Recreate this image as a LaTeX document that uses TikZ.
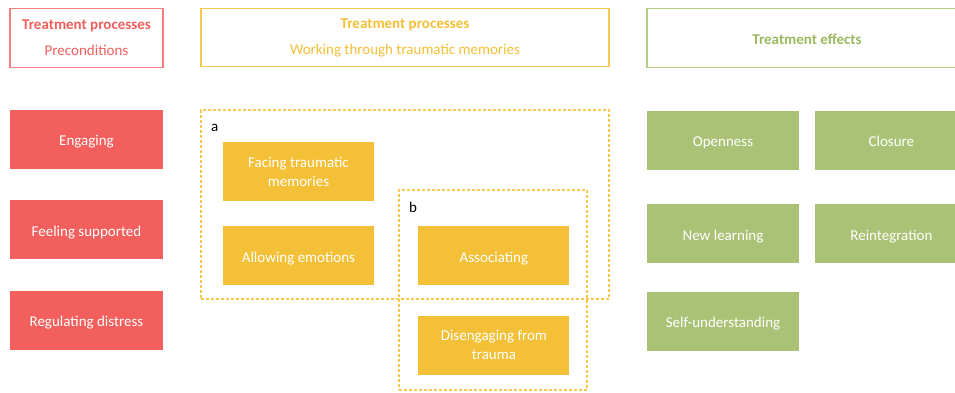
\documentclass[tikz,border=0pt]{standalone}
\usepackage{fontspec}
\setmainfont{Carlito}
\usetikzlibrary{positioning}

\definecolor{prered}{HTML}{F25F5C}
\definecolor{preline}{HTML}{F47F7D}
\definecolor{workyel}{HTML}{F4C038}
\definecolor{workline}{HTML}{F6C94E}
\definecolor{effgreen}{HTML}{A9C275}
\definecolor{effline}{HTML}{B4CC8A}
\definecolor{efftext}{HTML}{9CB85F}

\tikzset{
  box/.style={rectangle, inner sep=0pt, text=white, align=center,
    minimum width=152pt, minimum height=59pt,
    text height=13pt, text depth=0.5pt,
    font=\fontsize{15}{19}\selectfont},
  two/.style={text height={}, text depth={}},
  pre/.style={box, fill=prered, minimum width=153pt},
  work/.style={box, fill=workyel, minimum width=151pt},
  effect/.style={box, fill=effgreen},
  header/.style={rectangle, inner sep=0pt, fill=white, line width=1.4pt,
    align=center, minimum height=59pt, font=\fontsize{15}{26}\selectfont},
  group/.style={rectangle, inner sep=0pt, draw=workline, line width=1.2pt,
    dash pattern=on 3pt off 2pt},
  tag/.style={inner sep=0pt, anchor=base west, font=\fontsize{15}{18}\selectfont}
}

\begin{document}
\begin{tikzpicture}[x=1pt, y=-1pt]
\useasboundingbox (0,0) rectangle (955,392);
\clip (0,0) rectangle (955,392);
% headers
\node[header, draw=preline, text=prered, minimum width=153pt] (hpre) at (86.5,38)
  {\textbf{Treatment processes}\\Preconditions};
\node[header, draw=workline, text=workyel, minimum width=408pt, minimum height=58pt] (hwork) at (405,37.5)
  {\textbf{Treatment processes}\\Working through traumatic memories};
\node[header, draw=effline, text=efftext, minimum width=320pt,
  text height=13pt, text depth=0.5pt] (heff) at (807,38)
  {\textbf{Treatment effects}};

% preconditions
\node[pre] (engaging) at (86.5,139.5) {Engaging};
\node[pre, below=31pt of engaging] (supported) {Feeling supported};
\node[pre, below=31pt of supported] (regulating) {Regulating distress};

% working through
\node[work, two] (facing) at (298.5,171.5) {Facing traumatic\\memories};
\node[work, below=25pt of facing] (emotions) {Allowing emotions};
\node[work, right=44pt of emotions] (associating) {Associating};
\node[work, two, below=30pt of associating] (disengaging) {Disengaging from\\trauma};

% groups
\node[group, minimum width=408pt, minimum height=189pt] (grpa) at (405,204.5) {};
\node[group, minimum width=188pt, minimum height=200pt] (grpb) at (493,290) {};
\node[tag] (taga) at (211,131.5) {a};
\node[tag] (tagb) at (409,212) {b};

% effects
\node[effect] (openness) at (723,140.5) {Openness};
\node[effect, right=16pt of openness] (closure) {Closure};
\node[effect, below=34pt of openness] (learning) {New learning};
\node[effect, below=34pt of closure] (reintegration) {Reintegration};
\node[effect, below=28pt of learning] (selfund) {Self-understanding};
\end{tikzpicture}
\end{document}
